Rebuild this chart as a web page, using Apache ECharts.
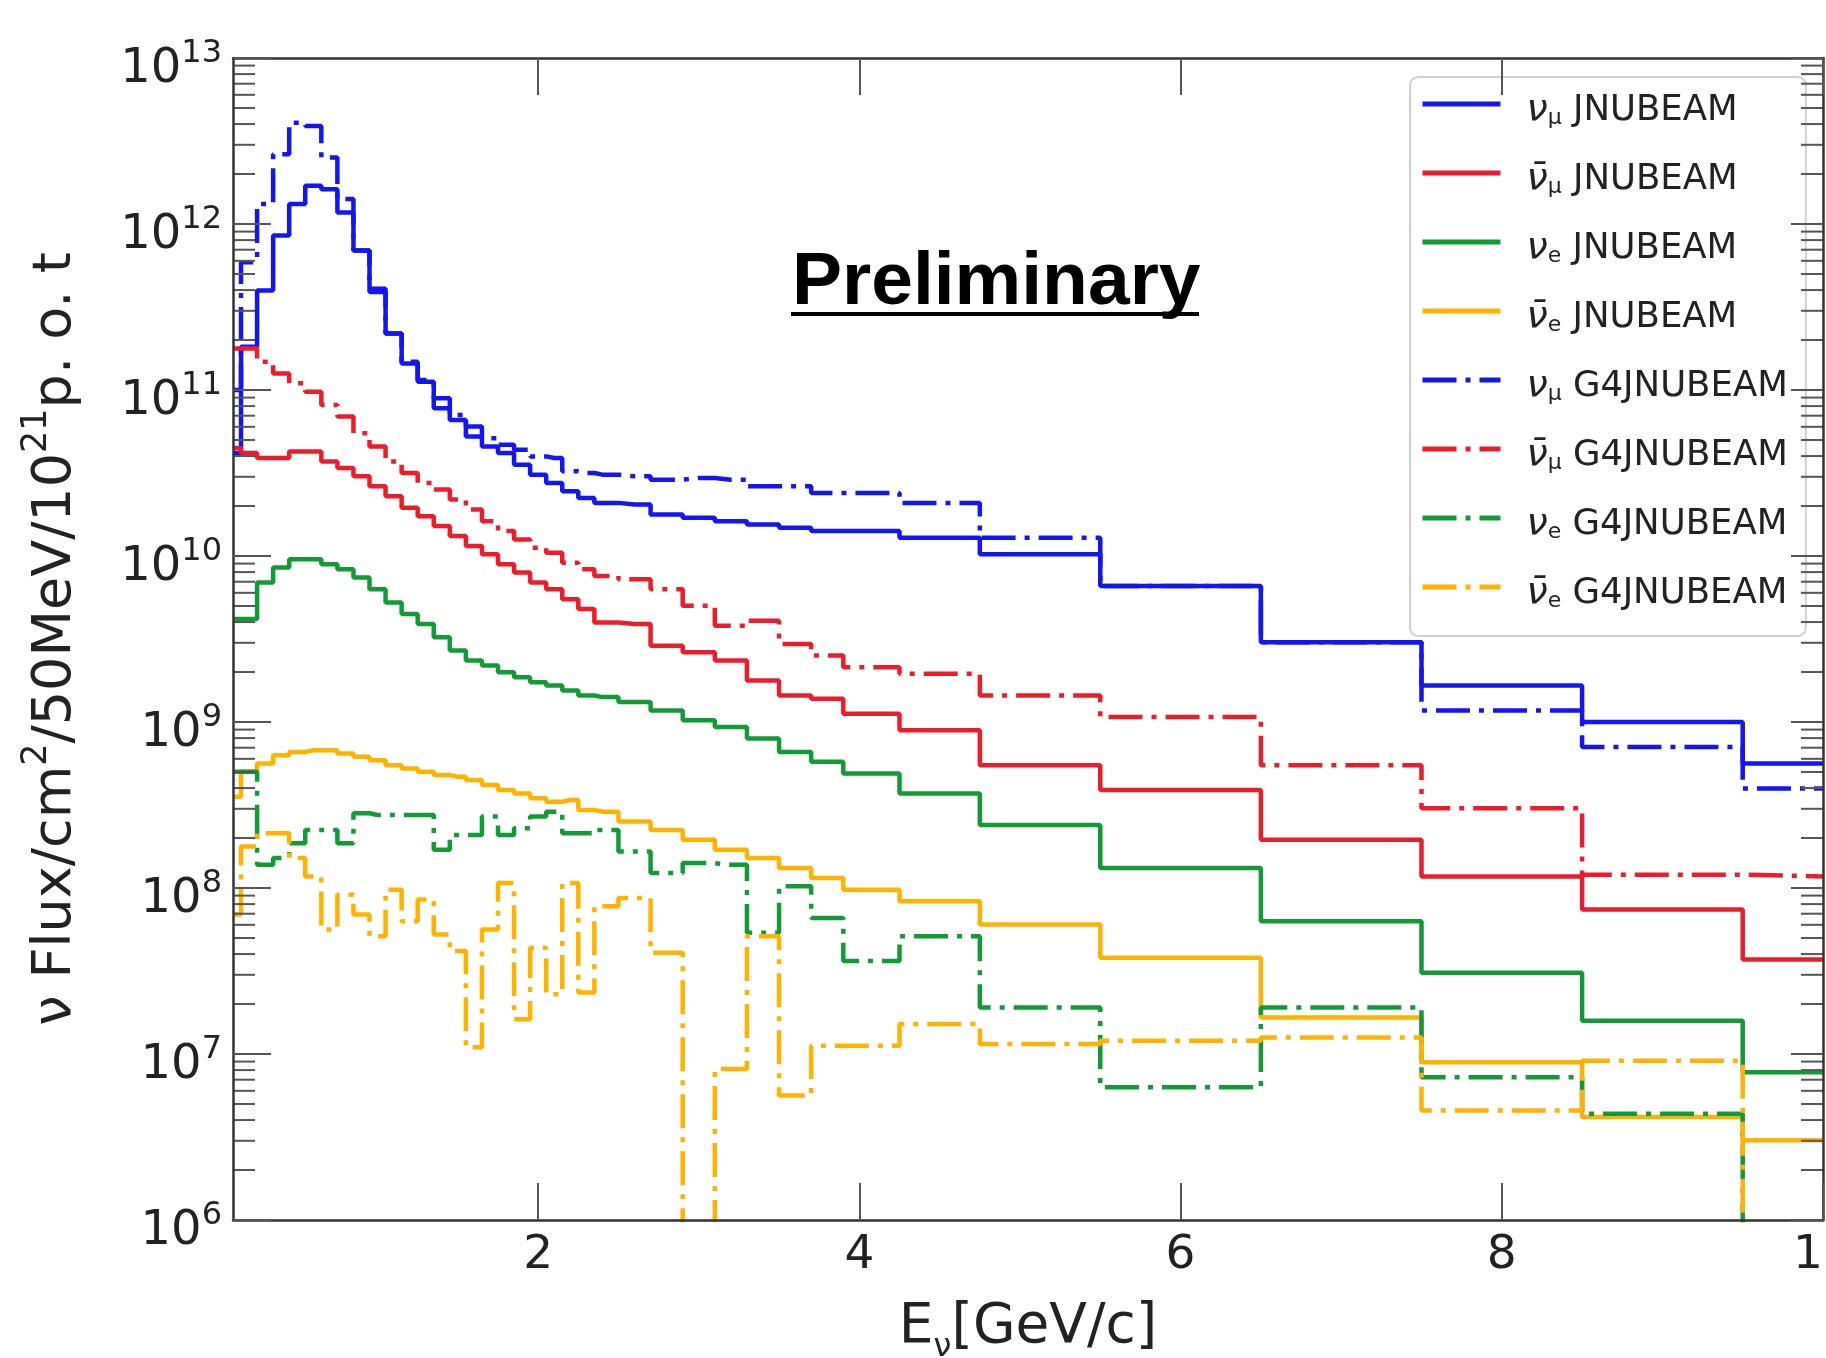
<!DOCTYPE html>
<html>
<head>
<meta charset="utf-8">
<script src="https://cdn.jsdelivr.net/npm/echarts@6/dist/echarts.min.js"></script>
<style>
  html, body { margin: 0; padding: 0; background: #fff; }
  #chart { width: 1826px; height: 1358px; }
</style>
</head>
<body>
<div id="chart"></div>
<script>
// bin centres in GeV, the histograms are drawn as mid steps
const energy = [0.1, 0.2, 0.3, 0.4, 0.5, 0.6, 0.7, 0.8, 0.9, 1.0, 1.1, 1.2, 1.3, 1.4, 1.5, 1.6, 1.7, 1.8, 1.9, 2.0,
  2.1, 2.2, 2.3, 2.4, 2.6, 2.8, 3.0, 3.2, 3.4, 3.6, 3.8, 4.0, 4.5, 5, 6, 7, 8, 9, 10];

// log10 of the flux in each bin (3 = empty bin, falls below the axis)
const numuJnubeam = [10.62, 11.26, 11.60, 11.93, 12.12, 12.23, 12.21, 12.07, 11.84, 11.61, 11.34, 11.16, 11.05, 10.89, 10.82, 10.72, 10.66, 10.62, 10.55, 10.49,
  10.44, 10.39, 10.35, 10.32, 10.31, 10.25, 10.23, 10.21, 10.19, 10.17, 10.15, 10.15, 10.11, 10.01, 9.82, 9.48, 9.22, 9.00, 8.75];
const numubarJnubeam = [10.65, 10.62, 10.59, 10.59, 10.63, 10.63, 10.57, 10.53, 10.48, 10.42, 10.36, 10.29, 10.24, 10.18, 10.12, 10.06, 10.01, 9.95, 9.90, 9.84,
  9.80, 9.74, 9.68, 9.60, 9.59, 9.46, 9.42, 9.37, 9.25, 9.16, 9.14, 9.05, 8.95, 8.74, 8.59, 8.29, 8.07, 7.87, 7.57];
const nueJnubeam = [9.62, 9.62, 9.84, 9.93, 9.98, 9.98, 9.95, 9.92, 9.87, 9.80, 9.72, 9.65, 9.59, 9.51, 9.43, 9.37, 9.34, 9.30, 9.27, 9.24,
  9.22, 9.19, 9.16, 9.15, 9.12, 9.07, 9.01, 8.97, 8.90, 8.82, 8.76, 8.69, 8.57, 8.38, 8.12, 7.80, 7.49, 7.20, 6.89];
const nuebarJnubeam = [8.55, 8.70, 8.75, 8.80, 8.82, 8.83, 8.83, 8.81, 8.79, 8.77, 8.74, 8.72, 8.70, 8.68, 8.67, 8.65, 8.62, 8.59, 8.57, 8.54,
  8.52, 8.53, 8.47, 8.46, 8.40, 8.35, 8.29, 8.23, 8.18, 8.12, 8.06, 7.99, 7.92, 7.78, 7.58, 7.22, 6.95, 6.62, 6.48];
const numuG4 = [11.00, 11.77, 12.12, 12.42, 12.61, 12.59, 12.40, 12.15, 11.84, 11.59, 11.34, 11.17, 11.06, 10.95, 10.85, 10.78, 10.71, 10.67, 10.64, 10.60,
  10.59, 10.51, 10.50, 10.49, 10.48, 10.46, 10.47, 10.46, 10.42, 10.42, 10.38, 10.38, 10.32, 10.11, 9.82, 9.48, 9.07, 8.85, 8.60];
const numubarG4 = [11.25, 11.25, 11.17, 11.10, 11.04, 10.99, 10.91, 10.84, 10.74, 10.66, 10.57, 10.50, 10.44, 10.40, 10.34, 10.28, 10.21, 10.15, 10.10, 10.05,
  10.02, 9.96, 9.92, 9.88, 9.86, 9.80, 9.70, 9.58, 9.61, 9.47, 9.40, 9.33, 9.29, 9.16, 9.03, 8.74, 8.48, 8.08, 8.07];
const nueG4 = [8.70, 8.70, 8.14, 8.18, 8.27, 8.35, 8.35, 8.27, 8.45, 8.44, 8.44, 8.44, 8.44, 8.23, 8.32, 8.32, 8.43, 8.32, 8.36, 8.43,
  8.46, 8.33, 8.33, 8.35, 8.22, 8.09, 8.15, 8.14, 7.73, 8.01, 7.82, 7.56, 7.71, 7.28, 6.80, 7.28, 6.86, 6.64, 3];
const nuebarG4 = [7.84, 8.25, 8.33, 8.33, 8.18, 8.07, 7.75, 7.96, 7.84, 7.71, 7.99, 7.80, 7.93, 7.72, 7.62, 7.04, 7.75, 8.03, 7.21, 7.64,
  7.36, 8.03, 7.37, 7.89, 7.94, 7.61, 3, 6.91, 7.71, 6.75, 7.05, 7.05, 7.18, 7.06, 7.08, 7.10, 6.66, 6.96, 3];

const xTicks = [2, 4, 6, 8, 10];

const BLUE = '#1414f5', RED = '#ec1c2c', GREEN = '#129a36', ORANGE = '#ffb200';
const DASHDOT = [34, 9, 5, 9];
const FONT = 'DejaVu Sans';
const AXIS = '#333', TICK = '#555', TEXT = '#222';

// legend labels: rich text with the neutrino symbols
const labels = {
  'numu JNUBEAM': '{nu|ν}{sub|μ}{t| JNUBEAM}',
  'numubar JNUBEAM': '{nu|ν\u0304}{sub|μ}{t| JNUBEAM}',
  'nue JNUBEAM': '{nu|ν}{sub|e}{t| JNUBEAM}',
  'nuebar JNUBEAM': '{nu|ν\u0304}{sub|e}{t| JNUBEAM}',
  'numu G4JNUBEAM': '{nu|ν}{sub|μ}{t| G4JNUBEAM}',
  'numubar G4JNUBEAM': '{nu|ν\u0304}{sub|μ}{t| G4JNUBEAM}',
  'nue G4JNUBEAM': '{nu|ν}{sub|e}{t| G4JNUBEAM}',
  'nuebar G4JNUBEAM': '{nu|ν\u0304}{sub|e}{t| G4JNUBEAM}'
};

function histData(logs) {
  return energy.map(function (e, i) { return [e, Math.pow(10, logs[i])]; });
}

function hist(name, logs, color, dashed) {
  return {
    name: name,
    type: 'line',
    step: 'middle',
    symbol: 'none',
    data: histData(logs),
    lineStyle: { color: color, width: 4.5, type: dashed ? DASHDOT : 'solid' },
    itemStyle: { color: color },
    emphasis: { disabled: true }
  };
}

// minor ticks 2..9 x 10^n on both sides
const minorTicks = [];
for (let p = 6; p < 13; p++) {
  for (let k = 2; k <= 9; k++) minorTicks.push([0.1, k * Math.pow(10, p)]);
}

const chart = echarts.init(document.getElementById('chart'));
chart.setOption({
  animation: false,
  backgroundColor: '#fff',
  grid: { left: 233, right: 3, top: 58, bottom: 138, containLabel: false, outerBoundsMode: 'none' },
  xAxis: [{
    type: 'value', min: 0.1, max: 10, z: 10,
    name: '{t|E}{sub|ν}{t|[GeV/c]}',
    nameLocation: 'middle', nameGap: 80,
    nameTextStyle: {
      rich: {
        t: { fontFamily: FONT, fontSize: 55, color: TEXT, lineHeight: 64, verticalAlign: 'top' },
        sub: { fontFamily: FONT, fontSize: 32, color: TEXT, lineHeight: 32, verticalAlign: 'bottom' }
      }
    },
    axisLine: { show: true, onZero: false, lineStyle: { color: AXIS, width: 2.5 } },
    axisTick: { show: true, inside: true, length: 37, customValues: xTicks, lineStyle: { color: TICK, width: 2 } },
    axisLabel: { customValues: xTicks, fontFamily: FONT, fontSize: 47, color: TEXT, margin: 12 },
    splitLine: { show: false }
  }, {
    type: 'value', min: 0.1, max: 10, position: 'top', z: 10,
    axisLine: { show: true, onZero: false, lineStyle: { color: AXIS, width: 2.5 } },
    axisTick: { show: true, inside: true, length: 37, customValues: xTicks, lineStyle: { color: TICK, width: 2 } },
    axisLabel: { show: false },
    splitLine: { show: false }
  }],
  yAxis: [{
    type: 'log', logBase: 10, min: 1e6, max: 1e13, splitNumber: 7, z: 10,
    name: '{t|ν Flux/cm}{s|2}{t|/50MeV/10}{s|21}{t|p. o. t}',
    nameLocation: 'middle', nameGap: 150, nameRotate: 90,
    nameTextStyle: {
      rich: {
        t: { fontFamily: FONT, fontSize: 54, color: TEXT, lineHeight: 64, verticalAlign: 'bottom' },
        s: { fontFamily: FONT, fontSize: 35, color: TEXT, lineHeight: 35, verticalAlign: 'top' }
      }
    },
    axisLine: { show: true, onZero: false, lineStyle: { color: AXIS, width: 2.5 } },
    axisTick: { show: true, inside: true, length: 38, lineStyle: { color: TICK, width: 2 } },
    axisLabel: {
      margin: 11,
      padding: [16, 0, 0, 0],
      formatter: function (v) {
        return '{b|10}{s|' + Math.round(Math.log10(v)) + '}';
      },
      rich: {
        b: { fontFamily: FONT, fontSize: 48, color: TEXT, lineHeight: 56, verticalAlign: 'bottom' },
        s: { fontFamily: FONT, fontSize: 32, color: TEXT, lineHeight: 32, verticalAlign: 'top' }
      }
    },
    splitLine: { show: false }
  }, {
    type: 'log', logBase: 10, min: 1e6, max: 1e13, splitNumber: 7, position: 'right', z: 10,
    axisLine: { show: true, onZero: false, lineStyle: { color: AXIS, width: 2.5 } },
    axisTick: { show: true, inside: true, length: 32, lineStyle: { color: TICK, width: 2 } },
    axisLabel: { show: false },
    splitLine: { show: false }
  }],
  legend: {
    orient: 'vertical',
    left: 1410, top: 77,
    padding: [14, 18, 24, 10],
    itemWidth: 78, itemHeight: 20, itemGap: 31,
    backgroundColor: '#fff',
    borderColor: '#d0d0d0', borderWidth: 2, borderRadius: 8,
    itemStyle: { opacity: 0 },
    lineStyle: { width: 5 },
    data: Object.keys(labels),
    formatter: function (name) { return labels[name]; },
    textStyle: {
      rich: {
        nu: { fontFamily: FONT, fontStyle: 'italic', fontSize: 38, color: TEXT, lineHeight: 50, verticalAlign: 'bottom', padding: [0, 0, 0, 21] },
        sub: { fontFamily: FONT, fontSize: 22, color: TEXT, lineHeight: 22, verticalAlign: 'bottom' },
        t: { fontFamily: FONT, fontSize: 35.5, color: TEXT, lineHeight: 50, verticalAlign: 'bottom' }
      }
    }
  },
  graphic: [{
    type: 'text', left: 792, top: 246, z: 10,
    style: { text: 'Preliminary', fontFamily: 'Liberation Sans', fontWeight: 'bold', fontSize: 75, fill: '#000' }
  }, {
    type: 'line', z: 10,
    shape: { x1: 791, y1: 314, x2: 1199, y2: 314 },
    style: { stroke: '#000', lineWidth: 4 }
  }],
  series: [
    hist('numu JNUBEAM', numuJnubeam, BLUE, false),
    hist('numubar JNUBEAM', numubarJnubeam, RED, false),
    hist('nue JNUBEAM', nueJnubeam, GREEN, false),
    hist('nuebar JNUBEAM', nuebarJnubeam, ORANGE, false),
    hist('numu G4JNUBEAM', numuG4, BLUE, true),
    hist('numubar G4JNUBEAM', numubarG4, RED, true),
    hist('nue G4JNUBEAM', nueG4, GREEN, true),
    hist('nuebar G4JNUBEAM', nuebarG4, ORANGE, true),
    {
      type: 'custom',
      silent: true,
      z: 10,
      data: minorTicks,
      renderItem: function (params, api) {
        const v = api.value(1);
        const l = api.coord([0.1, v]);
        const r = api.coord([10, v]);
        return {
          type: 'group',
          children: [
            { type: 'line', shape: { x1: l[0], y1: l[1], x2: l[0] + 22, y2: l[1] }, style: { stroke: TICK, lineWidth: 2 } },
            { type: 'line', shape: { x1: r[0], y1: r[1], x2: r[0] - 22, y2: r[1] }, style: { stroke: TICK, lineWidth: 2 } }
          ]
        };
      }
    }
  ]
});
</script>
</body>
</html>
